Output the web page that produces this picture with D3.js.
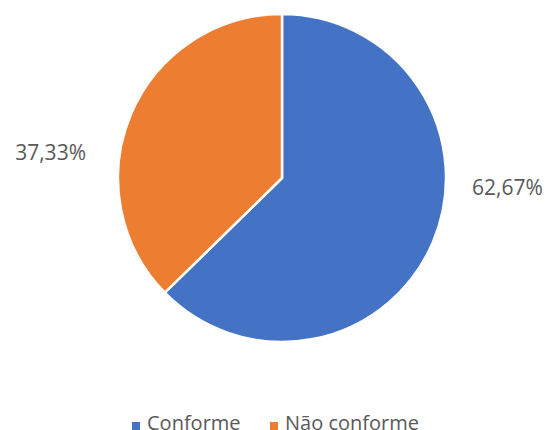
<!DOCTYPE html>
<html>
<head>
<meta charset="utf-8">
<script src="https://cdn.jsdelivr.net/npm/d3@7"></script>
<style>
  html, body { margin: 0; padding: 0; background: #fff; }
  svg { display: block; }
  text { font-family: "Open Sans", "Noto Sans", sans-serif; fill: #595959; }
</style>
</head>
<body>
<svg id="chart" width="547" height="430"></svg>
<script>
// Share of items by conformity status (percent)
const categories = ["Conforme", "Não conforme"];
const values = [62.67, 37.33];
const labels = ["62,67%", "37,33%"];
const colors = ["#4472C4", "#ED7D31"];

const width = 547, height = 430;
const cx = 282, cy = 178, radius = 164;

const svg = d3.select("#chart");

const pie = d3.pie().sort(null).value(d => d.value);
const arcs = pie(categories.map((c, i) => ({ name: c, value: values[i], label: labels[i], color: colors[i] })));

const arc = d3.arc().innerRadius(0).outerRadius(radius);

const g = svg.append("g").attr("transform", `translate(${cx},${cy})`);

g.selectAll("path.slice")
  .data(arcs)
  .join("path")
  .attr("class", "slice")
  .attr("d", arc)
  .attr("fill", d => d.data.color)
  .attr("stroke", "#fff")
  .attr("stroke-width", 2.5)
  .attr("stroke-linejoin", "round");

// Data labels beside the pie, on the side of each slice's mid angle
g.selectAll("text.value")
  .data(arcs)
  .join("text")
  .attr("class", "value")
  .attr("font-size", 21)
  .attr("dominant-baseline", "central")
  .attr("text-anchor", d => ((d.startAngle + d.endAngle) / 2 < Math.PI) ? "start" : "end")
  .attr("x", d => ((d.startAngle + d.endAngle) / 2 < Math.PI) ? radius + 26 : -(radius + 32))
  .attr("y", d => ((d.startAngle + d.endAngle) / 2 < Math.PI) ? 9 : -26)
  .text(d => d.data.label);

// Legend along the bottom
const legend = svg.append("g").attr("transform", "translate(0,430)");
const items = legend.selectAll("g.item")
  .data(categories.map((c, i) => ({ name: c, color: colors[i] })))
  .join("g")
  .attr("class", "item")
  .attr("transform", (d, i) => `translate(${i === 0 ? 132 : 270},0)`);

items.append("rect")
  .attr("x", 0).attr("y", -8)
  .attr("width", 8).attr("height", 8)
  .attr("fill", d => d.color);

items.append("text")
  .attr("x", 15).attr("y", 0)
  .attr("font-size", 20)
  .text(d => d.name);
</script>
</body>
</html>
